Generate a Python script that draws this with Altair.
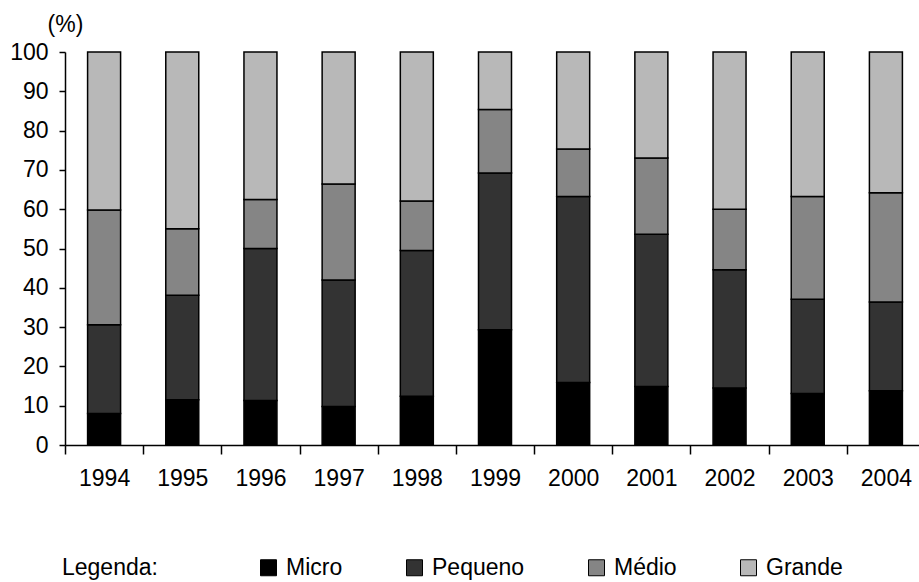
import altair as alt
import pandas as pd

years = ["1994", "1995", "1996", "1997", "1998", "1999", "2000", "2001", "2002", "2003", "2004"]
categories = ["Micro", "Pequeno", "Médio", "Grande"]
micro = [8.0, 11.5, 11.3, 9.8, 12.4, 29.3, 15.9, 14.9, 14.5, 13.1, 13.8]
pequeno = [22.6, 26.6, 38.7, 32.2, 37.1, 39.9, 47.3, 38.7, 30.1, 24.0, 22.6]
medio = [29.2, 16.9, 12.5, 24.4, 12.6, 16.2, 12.1, 19.4, 15.4, 26.1, 27.8]
grande = [40.2, 45.0, 37.5, 33.6, 37.9, 14.6, 24.7, 27.0, 40.0, 36.8, 35.8]
colors = ["#000000", "#333333", "#858585", "#b8b8b8"]
y_ticks = [0, 10, 20, 30, 40, 50, 60, 70, 80, 90, 100]

rows = []
for i, yr in enumerate(years):
    for k, (cat, vals) in enumerate(zip(categories, [micro, pequeno, medio, grande])):
        rows.append({"ano": yr, "categoria": cat, "valor": vals[i], "ordem": k})
df = pd.DataFrame(rows)

FONT = "Liberation Sans"
FS = 23

chart = alt.Chart(df).mark_bar(width=33, stroke="black", strokeWidth=1.5).encode(
    x=alt.X(
        "ano:N", sort=years,
        scale=alt.Scale(paddingInner=0, paddingOuter=0, range=[0, 860]),
        axis=alt.Axis(
            title=None, labelAngle=0, tickBand="extent", tickSize=9, labelPadding=13,
            domainColor="black", tickColor="black", domainWidth=1.5, tickWidth=1.5,
            labelFontSize=FS, labelColor="black", labelFont=FONT, grid=False,
        ),
    ),
    y=alt.Y(
        "valor:Q", stack="zero",
        scale=alt.Scale(domain=[0, 100], nice=False),
        axis=alt.Axis(
            values=y_ticks, title="(%)", titleAngle=0, titleX=0, titleY=-21,
            titleAlign="center", titleBaseline="alphabetic", titleFont=FONT,
            titleFontSize=FS, titleFontWeight="normal", titleColor="black",
            tickSize=6, labelPadding=11, domainColor="black", tickColor="black",
            domainWidth=1.5, tickWidth=1.5, labelFontSize=FS, labelColor="black",
            labelFont=FONT, grid=False,
        ),
    ),
    color=alt.Color(
        "categoria:N",
        scale=alt.Scale(domain=categories, range=colors),
        legend=alt.Legend(
            orient="none", legendX=-3, legendY=504, direction="horizontal",
            title="Legenda:", titleOrient="left", titleFont=FONT, titleFontSize=FS,
            titleFontWeight="normal", titleColor="black", titlePadding=99,
            symbolType="square", symbolSize=256, symbolStrokeColor="black",
            symbolStrokeWidth=1, labelFont=FONT, labelFontSize=FS, labelColor="black",
            labelOffset=6, columnPadding=60, padding=0,
        ),
    ),
    order=alt.Order("ordem:Q", sort="ascending"),
).properties(
    width=854, height=393,
    autosize=alt.AutoSizeParams(type="none"),
    padding={"left": 65, "top": 52, "right": 0, "bottom": 137},
).configure_view(stroke=None)

chart.save("out.html", embed_options={"renderer": "svg", "actions": False})
